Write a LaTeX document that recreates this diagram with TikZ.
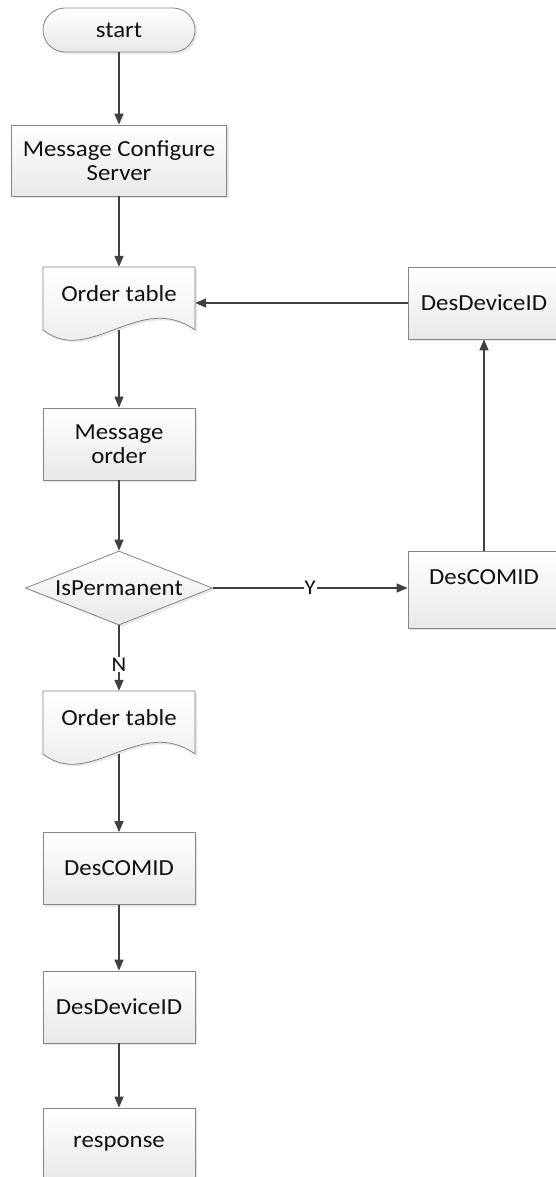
\documentclass[tikz,border=0pt]{standalone}
\usepackage{fontspec}
\setmainfont{Carlito}[FakeStretch=1.08]
\usetikzlibrary{shapes.geometric,arrows.meta,shadows}

\definecolor{boxline}{HTML}{858585}
\definecolor{flowline}{HTML}{404040}
\definecolor{boxtext}{HTML}{111111}

% document symbol with a wavy bottom, centred at (#1,#2)
\def\docshape(#1,#2){\draw[docline, shift={(#1,#2)}] (-76,-31.5) -- (76,-31.5) -- (76,31.5) .. controls (21,-8) and (-29,68) .. (-76,31.5) -- cycle;}

\tikzset{
	shade/.style={top color=white, bottom color=black!9, drop shadow={opacity=0.2, shadow xshift=2pt, shadow yshift=-2pt}},
	box/.style={shade, draw=boxline, line width=0.8pt, minimum width=152pt, minimum height=72pt, inner sep=2pt, align=center, text=boxtext, font=\fontsize{23}{24}\selectfont},
	term/.style={box, rounded corners=22pt, minimum height=44pt},
	decision/.style={box, diamond, aspect=2.5, minimum width=187pt, minimum height=74pt, inner sep=0pt},
	docline/.style={shade, draw=boxline, line width=0.8pt},
	docbox/.style={minimum width=152pt, minimum height=63pt, inner sep=0pt, text height=16pt, text depth=10pt, text=boxtext, font=\fontsize{23}{24}\selectfont},
	flow/.style={draw=flowline, line width=1.4pt, -{Triangle[length=11pt, width=9pt]}},
	lbl/.style={fill=white, inner sep=1pt, text=boxtext, font=\fontsize{21}{22}\selectfont}
}

\begin{document}
\begin{tikzpicture}[x=1pt, y=-1pt]
		%%%%% START %%%%%
		\useasboundingbox (0, 0) rectangle (555, 1177);
		
		% main column
		\node[term] (start) at (119, 30) {start};
		\node[box, minimum width=215pt, minimum height=71pt] (mcs) at (119, 160.5) {Message Configure\\Server};
		
		\docshape(119, 298.5)
		\node[docbox] (ot1) at (119, 298.5) {Order table};
		
		\node[box] (mo) at (119, 444) {Message\\order};
		\node[decision] (dia) at (119, 588) {IsPermanent};
		
		\docshape(119, 722.5)
		\node[docbox] (ot2) at (119, 722.5) {Order table};
		
		\node[box] (lcom) at (119, 868.5) {DesCOMID};
		\node[box] (ldev) at (119, 1007) {DesDeviceID};
		\node[box] (resp) at (119, 1144) {response};
		
		% side branch
		\node[box] (rdev) at (484, 303) {DesDeviceID};
		\node[box, minimum height=77pt, text depth=24pt] (rcom) at (484, 589.5) {DesCOMID};
		
		% connectors
		\draw[flow] (start) -- (mcs);
		\draw[flow] (mcs) -- (ot1);
		\draw[flow] (ot1) -- (mo);
		\draw[flow] (mo) -- (dia);
		\draw[flow] (dia) -- node[lbl, pos=0.6] {N} (ot2);
		\draw[flow] (ot2) -- (lcom);
		\draw[flow] (lcom) -- (ldev);
		\draw[flow] (ldev) -- (resp);
		
		\draw[flow] (dia.east) -- node[lbl] {Y} (dia.east -| rcom.west);
		\draw[flow] (rcom) -- (rdev);
		\draw[flow] (rdev.west) -- (rdev.west -| ot1.east);
		
		%%%%% END %%%%%
	\end{tikzpicture}
\end{document}
